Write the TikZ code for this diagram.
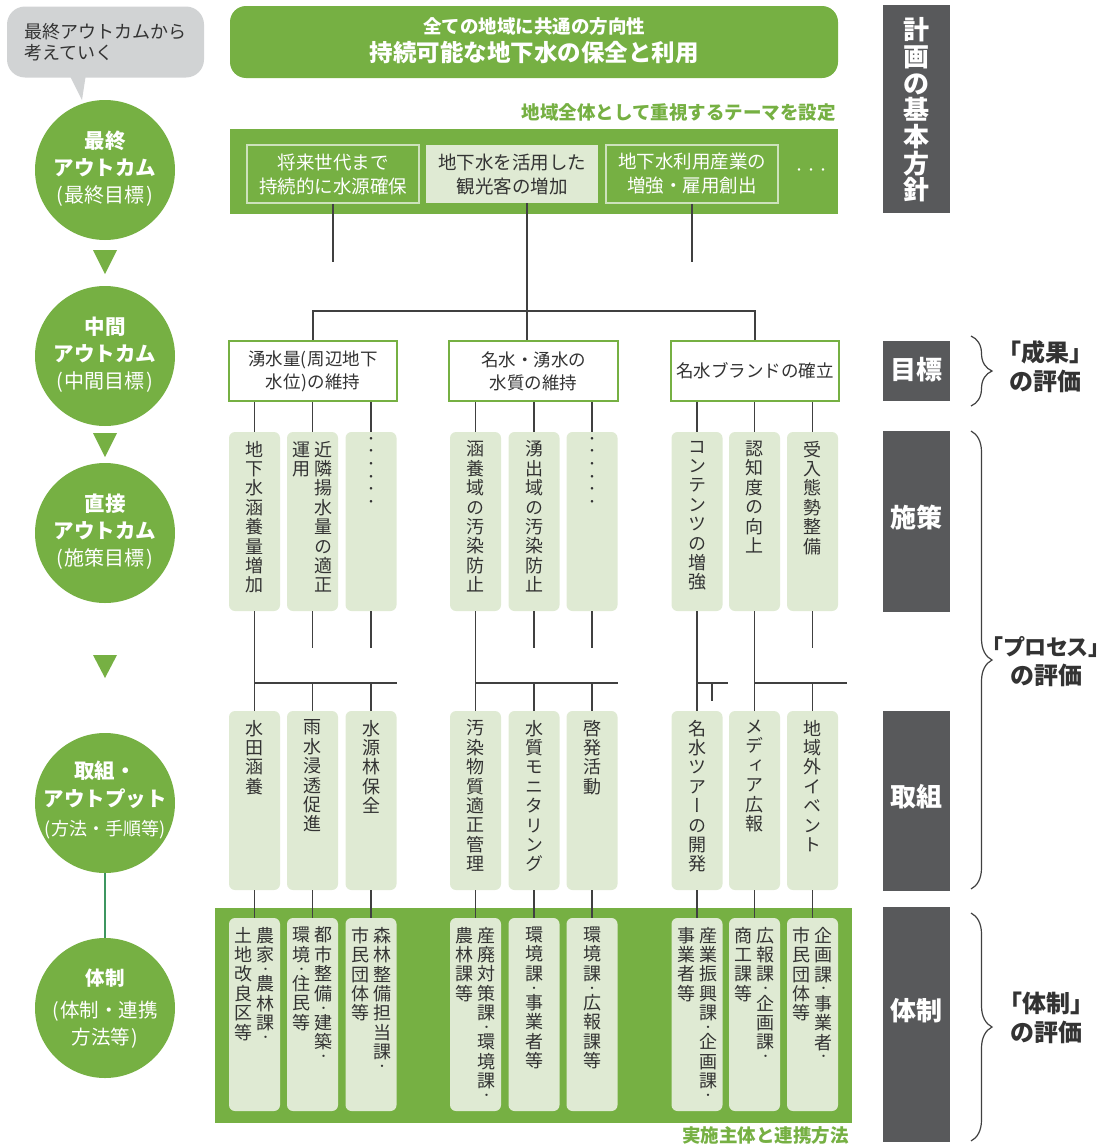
\documentclass[tikz,border=0pt]{standalone}
\usepackage{fontspec}
\setmainfont{Noto Sans CJK JP}
\newfontfamily\vjp{Noto Sans CJK JP}[RawFeature=+vert]
\usetikzlibrary{decorations.pathreplacing}

\definecolor{ogreen}{RGB}{118,176,67}
\definecolor{lgreen}{RGB}{223,234,211}
\definecolor{bubgray}{RGB}{209,211,212}
\definecolor{darkbox}{RGB}{88,89,91}
\definecolor{ink}{RGB}{51,51,51}
\definecolor{wire}{RGB}{64,64,64}
\definecolor{thline}{RGB}{205,226,188}
\definecolor{tealline}{RGB}{62,150,96}

% vertical column of characters, one glyph per line
\makeatletter
\newif\iftcolhalf
\def\tcolend{\tcolend@}
\def\tcol@dot{・}
\newcommand\tcol[2][19.4pt]{\vtop{\baselineskip=#1\relax\lineskiplimit=-100pt\lineskip=0pt\relax\tcol@a#2\tcolend}}
\def\tcol@a#1{\ifx#1\tcolend\else\tcol@b{#1}\expandafter\tcol@a\fi}
\def\tcol@b#1{\def\tcol@c{#1}%
  \iftcolhalf
    \ifx\tcol@c\tcol@dot
      \vskip-4.8pt\relax
      \hbox to 20pt{\hss\raise2.66pt\hbox{\fontsize{11}{11}\selectfont#1}\hss}%
      \vskip-4.8pt\relax
    \else
      \hbox to 20pt{\hss#1\hss}%
    \fi
  \else
    \hbox to 20pt{\hss#1\hss}%
  \fi}
\makeatother

\begin{document}
\begin{tikzpicture}[x=1pt,y=-1pt,
  wire/.style={draw=wire, line width=1.2pt},
  circ/.style={circle, fill=ogreen, minimum size=140pt, inner sep=0pt},
  circtxt/.style={text=white, align=center, inner sep=0pt},
  tbox/.style={fill=lgreen, rounded corners=6pt, minimum width=51pt, inner sep=0pt},
  rowA/.style={tbox, minimum height=179pt},
  rowC/.style={tbox, minimum height=193pt},
  vtxt/.style={anchor=north, inner sep=0pt, text=ink, font=\vjp\fontsize{18}{19.4}\selectfont},
  vtxth/.style={anchor=north, inner sep=0pt, text=ink, font=\vjp\fontsize{18}{19.4}\selectfont\tcolhalftrue},
  goal/.style={draw=ogreen, line width=1.6pt, fill=white, minimum width=168pt, minimum height=60pt, inner sep=0pt, align=center, text=ink, font=\fontsize{17.5}{23}\selectfont},
  theme/.style={minimum width=172pt, minimum height=58pt, inner sep=0pt, align=center, font=\fontsize{18.5}{24}\selectfont},
  dbox/.style={fill=darkbox, minimum width=67pt, inner sep=0pt},
  dtxt/.style={text=white, font=\bfseries\fontsize{26}{26.7}\selectfont, inner sep=0pt},
  evtxt/.style={text=ink, align=center, font=\bfseries\fontsize{24}{29}\selectfont, inner sep=0pt},
  brace/.style={decorate, decoration={brace, amplitude=21pt}, draw=wire, line width=1.2pt}
]
\useasboundingbox (0,0) rectangle (1099,1146);

% ---------- left column: speech bubble, outcome circles ----------
\node[fill=bubgray, rounded corners=18pt, minimum width=197pt, minimum height=71pt, inner sep=0pt] (bub) at (105.5,42) {};
\fill[bubgray] (69,74) -- (82,100) -- (86,74) -- cycle;
\node[anchor=west, align=left, text=ink, inner sep=0pt, font=\fontsize{18}{21.5}\selectfont] (bubt) at (24,42) {最終アウトカムから\\考えていく};

\node[circ] (c1) at (105,170) {};
\node[circtxt, font=\bfseries\fontsize{20.5}{27}\selectfont] (c1t) at (105,169) {最終\\アウトカム\\{\mdseries\fontsize{20}{27}\selectfont(\kern2pt最終目標\kern2pt)}};
\node[circ] (c2) at (105,356) {};
\node[circtxt, font=\bfseries\fontsize{20.5}{27}\selectfont] (c2t) at (105,355) {中間\\アウトカム\\{\mdseries\fontsize{20}{27}\selectfont(\kern2pt中間目標\kern2pt)}};
\node[circ] (c3) at (105,533) {};
\node[circtxt, font=\bfseries\fontsize{20.5}{27}\selectfont] (c3t) at (105,532) {直接\\アウトカム\\{\mdseries\fontsize{20}{27}\selectfont(\kern2pt施策目標\kern2pt)}};
\node[circ] (c4) at (105,803) {};
\node[circtxt, font=\bfseries\fontsize{20.5}{28.5}\selectfont] (c4t) at (105,800) {取組・\\アウトプット\\{\mdseries\fontsize{18}{28.5}\selectfont(方法・手順等)}};
\node[circ] (c5) at (105,1008) {};
\node[circtxt, font=\fontsize{19.5}{27}\selectfont] (c5t) at (105,1009) {{\bfseries 体制}\\[5pt](\kern1pt 体制・連携\\方法等\kern1pt)};

\fill[ogreen] (93,250) -- (117,250) -- (105,274) -- cycle;
\fill[ogreen] (93,433) -- (117,433) -- (105,457) -- cycle;
\fill[ogreen] (93,655) -- (117,655) -- (105,678) -- cycle;
\draw[tealline, line width=1.2pt] (c4.south) -- (c5.north);

% ---------- top: common direction and themes ----------
\node[fill=ogreen, rounded corners=16pt, minimum width=608pt, minimum height=72pt, inner sep=0pt] (banner) at (534,42) {};
\node[text=white, inner sep=0pt, font=\bfseries\fontsize{18.5}{20}\selectfont] (bt1) at (534,26) {全ての地域に共通の方向性};
\node[text=white, inner sep=0pt, font=\bfseries\fontsize{23.5}{25}\selectfont] (bt2) at (534,53) {持続可能な地下水の保全と利用};

\node[anchor=east, text=ogreen, inner sep=0pt, font=\bfseries\fontsize{18.5}{20}\selectfont] (themehd) at (836,112) {地域全体として重視するテーマを設定};

\node[fill=ogreen, minimum width=608pt, minimum height=85pt, inner sep=0pt] (band) at (534,171.5) {};
\node[theme, draw=thline, line width=1.5pt, text=white] (thA) at (333,174) {将来世代まで\\持続的に水源確保};
\node[theme, fill=lgreen, text=ink] (thB) at (512,174) {地下水を活用した\\観光客の増加};
\node[theme, draw=thline, line width=1.5pt, text=white] (thC) at (692,174) {地下水利用産業の\\増強・雇用創出};
\node[text=white, inner sep=0pt, font=\fontsize{12}{12}\selectfont] (thD) at (811,172) {・・・};

% ---------- implementation band ----------
\node[fill=ogreen, minimum width=637pt, minimum height=215pt, inner sep=0pt] (orgband) at (533.5,1015.5) {};
\node[anchor=east, text=ogreen, inner sep=0pt, font=\bfseries\fontsize{18.5}{20}\selectfont] (orghd) at (849,1135) {実施主体と連携方法};

% ---------- goal boxes ----------
\node[goal] (mid1) at (313,371) {湧水量(\kern1pt周辺地下\\水位\kern1pt)の維持};
\node[goal, minimum width=169pt] (mid2) at (533.5,371) {名水・湧水の\\水質の維持};
\node[goal] (mid3) at (755,371) {名水ブランドの確立};

% ---------- measure / activity / organisation columns ----------
\foreach \i/\x in {1/254.5,2/312.5,3/371,4/475.5,5/534,6/592,7/697,8/754.5,9/812.5}{
  \node[rowA] (s\i) at (\x,521.5) {};
  \node[rowA] (t\i) at (\x,800.5) {};
  \node[rowC] (u\i) at (\x,1014.5) {};
}

\node[vtxt] (sl1) at ([yshift=-9pt]s1.north) {\tcol{地下水涵養量増加}};
\node[vtxt] (sl2) at ([yshift=-9pt]s2.north) {\tcol{運用}\kern2pt\tcol{近隣揚水量の適正}};
\node[vtxt, font=\vjp\fontsize{12.5}{12.7}\selectfont] (sl3) at ([yshift=-5pt]s3.north) {\tcol[12.7pt]{・・・・・・}};
\node[vtxt] (sl4) at ([yshift=-9pt]s4.north) {\tcol{涵養域の汚染防止}};
\node[vtxt] (sl5) at ([yshift=-9pt]s5.north) {\tcol{湧出域の汚染防止}};
\node[vtxt, font=\vjp\fontsize{12.5}{12.7}\selectfont] (sl6) at ([yshift=-5pt]s6.north) {\tcol[12.7pt]{・・・・・・}};
\node[vtxt] (sl7) at ([yshift=-9pt]s7.north) {\tcol{コンテンツの増強}};
\node[vtxt] (sl8) at ([yshift=-9pt]s8.north) {\tcol{認知度の向上}};
\node[vtxt] (sl9) at ([yshift=-9pt]s9.north) {\tcol{受入態勢整備}};

\node[vtxt] (tl1) at ([yshift=-9pt]t1.north) {\tcol{水田涵養}};
\node[vtxt] (tl2) at ([yshift=-9pt]t2.north) {\tcol{雨水浸透促進}};
\node[vtxt] (tl3) at ([yshift=-9pt]t3.north) {\tcol{水源林保全}};
\node[vtxt] (tl4) at ([yshift=-9pt]t4.north) {\tcol{汚染物質適正管理}};
\node[vtxt] (tl5) at ([yshift=-9pt]t5.north) {\tcol{水質モニタリング}};
\node[vtxt] (tl6) at ([yshift=-9pt]t6.north) {\tcol{啓発活動}};
\node[vtxt] (tl7) at ([yshift=-9pt]t7.north) {\tcol{名水ツアーの開発}};
\node[vtxt] (tl8) at ([yshift=-9pt]t8.north) {\tcol{メディア広報}};
\node[vtxt] (tl9) at ([yshift=-9pt]t9.north) {\tcol{地域外イベント}};

\node[vtxth] (ul1) at ([yshift=-9pt]u1.north) {\tcol{土地改良区等}\kern2pt\tcol{農家・農林課・}};
\node[vtxth] (ul2) at ([yshift=-9pt]u2.north) {\tcol{環境・住民等}\kern2pt\tcol{都市整備・建築・}};
\node[vtxth] (ul3) at ([yshift=-9pt]u3.north) {\tcol{市民団体等}\kern2pt\tcol{森林整備担当課・}};
\node[vtxth] (ul4) at ([yshift=-9pt]u4.north) {\tcol{農林課等}\kern2pt\tcol{産廃対策課・環境課・}};
\node[vtxth] (ul5) at ([yshift=-9pt]u5.north) {\tcol{環境課・事業者等}};
\node[vtxth] (ul6) at ([yshift=-9pt]u6.north) {\tcol{環境課・広報課等}};
\node[vtxth] (ul7) at ([yshift=-9pt]u7.north) {\tcol{事業者等}\kern2pt\tcol{産業振興課・企画課・}};
\node[vtxth] (ul8) at ([yshift=-9pt]u8.north) {\tcol{商工課等}\kern2pt\tcol{広報課・企画課・}};
\node[vtxth] (ul9) at ([yshift=-9pt]u9.north) {\tcol{市民団体等}\kern2pt\tcol{企画課・事業者・}};

% ---------- connectors ----------
\coordinate (stopA) at (0,262);
\coordinate (jB) at (527,311);
\coordinate (stub) at (0,648);
\coordinate (jrow) at (0,683);
\coordinate (k1) at (728,683);
\coordinate (k2) at (712,701);
\coordinate (k3) at (847,683);

\draw[wire] (thA.south) -- (thA.south |- stopA);
\draw[wire] (thC.south) -- (thC.south |- stopA);
\draw[wire] (thB.south -| jB) -- (mid2.north -| jB);
\draw[wire] (mid1.north) -- (mid1.north |- jB) -- (mid3.north |- jB) -- (mid3.north);

\foreach \m/\a/\b/\c in {mid1/1/2/3, mid2/4/5/6, mid3/7/8/9}{
  \draw[wire] (\m.south -| s\a.north) -- (s\a.north);
  \draw[wire] (\m.south -| s\b.north) -- (s\b.north);
  \draw[wire] (\m.south -| s\c.north) -- (s\c.north);
}

% measures to activities
\draw[wire] (s1.south) -- (t1.north);
\draw[wire] (s2.south) -- (s2.south |- stub);
\draw[wire] (s3.south) -- (s3.south |- stub);
\draw[wire] (s1.south |- jrow) -- (s3.south east |- jrow);
\draw[wire] (t2.north |- jrow) -- (t2.north);
\draw[wire] (t3.north |- jrow) -- (t3.north);

\draw[wire] (s4.south) -- (t4.north);
\draw[wire] (s5.south) -- (s5.south |- stub);
\draw[wire] (s6.south) -- (s6.south |- stub);
\draw[wire] (s4.south |- jrow) -- (s6.south east |- jrow);
\draw[wire] (t5.north |- jrow) -- (t5.north);
\draw[wire] (t6.north |- jrow) -- (t6.north);

\draw[wire] (s7.south) -- (t7.north);
\draw[wire] (s7.south |- jrow) -- (k1);
\draw[wire] (k2 |- jrow) -- (k2);
\draw[wire] (s8.south) -- (t8.north);
\draw[wire] (s8.south |- jrow) -- (k3);
\draw[wire] (s9.south) -- (s9.south |- stub);
\draw[wire] (t9.north |- jrow) -- (t9.north);

% activities to organisations
\foreach \i in {1,...,9}{
  \draw[wire] (t\i.south) -- (u\i.north);
}

% ---------- right column: evaluation labels ----------
\node[dbox, minimum height=208pt] (rk1) at (916.5,109) {};
\node[dtxt] (rk1t) at (916.5,110) {\tcol[26.7pt]{計画の基本方針}};
\node[dbox, minimum height=60pt] (rk2) at (916.5,371) {};
\node[dtxt] (rk2t) at (916.5,370) {目標};
\node[dbox, minimum height=181pt] (rk3) at (916.5,521.5) {};
\node[dtxt] (rk3t) at (916.5,518) {施策};
\node[dbox, minimum height=180pt] (rk4) at (916.5,801) {};
\node[dtxt] (rk4t) at (916.5,797) {取組};
\node[dbox, minimum height=235pt] (rk5) at (916.5,1024.5) {};
\node[dtxt] (rk5t) at (916.5,1011) {体制};

\coordinate (br1a) at (971,336);
\coordinate (br1b) at (971,406);
\coordinate (br2a) at (971,431);
\coordinate (br2b) at (971,889);
\coordinate (br3a) at (971,913);
\coordinate (br3b) at (971,1141);
\draw[brace] (br1a) -- (br1b);
\draw[brace] (br2a) -- (br2b);
\draw[brace] (br3a) -- (br3b);

\node[evtxt] (ev1) at (1045,367) {｢成果｣\\の評価};
\node[evtxt] (ev2) at (1046,662) {{\addfontfeature{RawFeature=+palt}\fontsize{22}{29}\selectfont｢プロセス｣}\\の評価};
\node[evtxt] (ev3) at (1046,1018) {｢体制｣\\の評価};

\end{tikzpicture}
\end{document}
